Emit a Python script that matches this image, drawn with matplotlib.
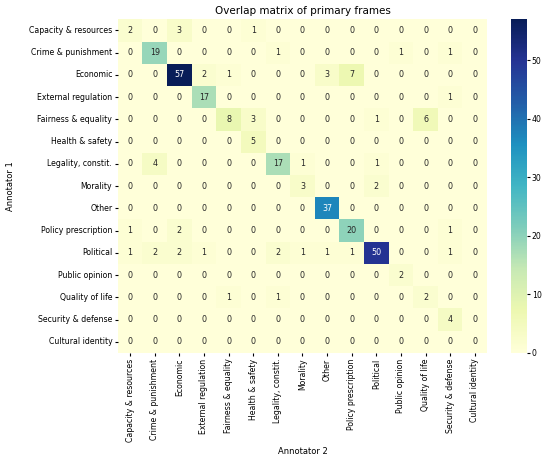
import numpy as np
import matplotlib.pyplot as plt
import seaborn as sns

frames = ["Capacity & resources", "Crime & punishment", "Economic", "External regulation",
          "Fairness & equality", "Health & safety", "Legality, constit.", "Morality", "Other",
          "Policy prescription", "Political", "Public opinion", "Quality of life",
          "Security & defense", "Cultural identity"]

overlap = np.array([
    [2, 0, 3, 0, 0, 1, 0, 0, 0, 0, 0, 0, 0, 0, 0],
    [0, 19, 0, 0, 0, 0, 1, 0, 0, 0, 0, 1, 0, 1, 0],
    [0, 0, 57, 2, 1, 0, 0, 0, 3, 7, 0, 0, 0, 0, 0],
    [0, 0, 0, 17, 0, 0, 0, 0, 0, 0, 0, 0, 0, 1, 0],
    [0, 0, 0, 0, 8, 3, 0, 0, 0, 0, 1, 0, 6, 0, 0],
    [0, 0, 0, 0, 0, 5, 0, 0, 0, 0, 0, 0, 0, 0, 0],
    [0, 4, 0, 0, 0, 0, 17, 1, 0, 0, 1, 0, 0, 0, 0],
    [0, 0, 0, 0, 0, 0, 0, 3, 0, 0, 2, 0, 0, 0, 0],
    [0, 0, 0, 0, 0, 0, 0, 0, 37, 0, 0, 0, 0, 0, 0],
    [1, 0, 2, 0, 0, 0, 0, 0, 0, 20, 0, 0, 0, 1, 0],
    [1, 2, 2, 1, 0, 0, 2, 1, 1, 1, 50, 0, 0, 1, 0],
    [0, 0, 0, 0, 0, 0, 0, 0, 0, 0, 0, 2, 0, 0, 0],
    [0, 0, 0, 0, 1, 0, 1, 0, 0, 0, 0, 0, 2, 0, 0],
    [0, 0, 0, 0, 0, 0, 0, 0, 0, 0, 0, 0, 0, 4, 0],
    [0, 0, 0, 0, 0, 0, 0, 0, 0, 0, 0, 0, 0, 0, 0],
])

plt.rcParams['font.size'] = 5.6
fig = plt.figure(figsize=(5.43, 4.59), dpi=100)
ax = fig.add_axes([0.217, 0.231, 0.680, 0.727])
cax = fig.add_axes([0.941, 0.231, 0.029, 0.727])
sns.heatmap(overlap, annot=True, fmt="d", cmap="YlGnBu", ax=ax, cbar_ax=cax,
            xticklabels=frames, yticklabels=frames, annot_kws={"size": 5.8})
ax.set_title("Overlap matrix of primary frames", fontsize=7.5, pad=4)
ax.set_xlabel("Annotator 2", fontsize=6)
ax.set_ylabel("Annotator 1", fontsize=6, labelpad=10)
ax.tick_params(labelsize=5.6, length=2.5, pad=1.5)
cax.tick_params(labelsize=5.6, length=2.5, pad=1.2)
fig.savefig("out.png", dpi=100)
